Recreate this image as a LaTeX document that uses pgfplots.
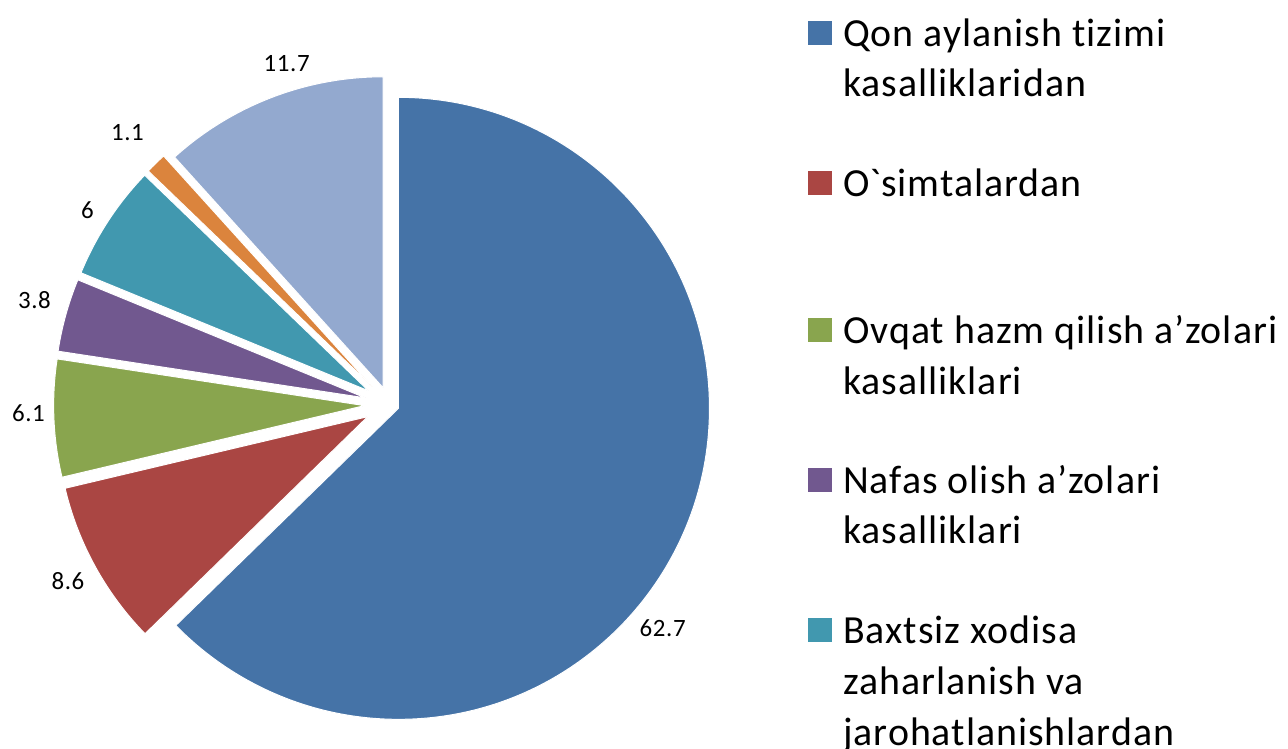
\documentclass[border=0pt]{standalone}
\usepackage{fontspec}
\setmainfont{Carlito}[Ligatures={NoCommon}, LetterSpace=2.5]
\usepackage{pgfplots}
\pgfplotsset{compat=1.18}
\definecolor{c1}{RGB}{69,115,167}
\definecolor{c2}{RGB}{170,70,67}
\definecolor{c3}{RGB}{137,165,78}
\definecolor{c4}{RGB}{113,88,143}
\definecolor{c5}{RGB}{65,152,175}
\definecolor{c6}{RGB}{219,132,61}
\definecolor{c7}{RGB}{147,169,207}
\newcommand\labfont{\fontsize{25}{30}\selectfont}
\newcommand\legfont{\fontsize{40}{48}\selectfont}
\begin{document}
\begin{tikzpicture}
\useasboundingbox (0,0) rectangle (1288bp,749bp);
\clip (0,0) rectangle (1288bp,749bp);
\begin{axis}[
  width=1288bp, height=749bp, scale only axis,
  xmin=0, xmax=1288, ymin=0, ymax=749,
  hide axis, clip=false,
  anchor=south west, at={(0,0)},
]
\pgfplotsextra{
  \gdef\cumsum{0}
  % value / explode distance / colour
  \foreach \sv/\se/\scol in {62.7/9.6/c1, 8.6/25/c2, 6.1/25/c3, 3.8/25/c4, 6/25/c5, 1.1/25/c6, 11.7/18/c7} {
    \pgfmathsetmacro\sA{90-3.6*\cumsum}
    \pgfmathsetmacro\sB{90-3.6*(\cumsum+\sv)}
    \pgfmathsetmacro\sM{(\sA+\sB)/2}
    \pgfmathsetmacro\sX{389.6+\se*cos(\sM)}
    \pgfmathsetmacro\sY{344.4+\se*sin(\sM)}
    \fill[\scol, draw=white, line width=1bp] (axis cs:\sX,\sY) -- ++(\sA:311bp) arc[start angle=\sA, end angle=\sB, radius=311bp] -- cycle;
    \pgfmathsetmacro\sN{\cumsum+\sv}
    \xdef\cumsum{\sN}
  }
}
% data labels
\node[font=\labfont, inner sep=0] at (axis cs:662.7,121) {62.7};
\node[font=\labfont, inner sep=0] at (axis cs:68,167.5) {8.6};
\node[font=\labfont, inner sep=0] at (axis cs:28.5,335.5) {6.1};
\node[font=\labfont, inner sep=0] at (axis cs:34.5,449) {3.8};
\node[font=\labfont, inner sep=0] at (axis cs:87.5,538.5) {6};
\node[font=\labfont, inner sep=0] at (axis cs:127.5,616) {1.1};
\node[font=\labfont, inner sep=0] at (axis cs:286.7,685) {11.7};
% legend
\fill[c1] (axis cs:808,704) rectangle (axis cs:832,728);
\node[font=\legfont, inner sep=0, anchor=base west] at (axis cs:843,702) {Qon aylanish tizimi};
\node[font=\legfont, inner sep=0, anchor=base west] at (axis cs:843,652) {kasalliklaridan};
\fill[c2] (axis cs:808,554) rectangle (axis cs:832,578);
\node[font=\legfont, inner sep=0, anchor=base west] at (axis cs:843,552) {O\textasciigrave simtalardan};
\fill[c3] (axis cs:808,407) rectangle (axis cs:832,431);
\node[font=\legfont, inner sep=0, anchor=base west] at (axis cs:843,405) {Ovqat hazm qilish a’zolari};
\node[font=\legfont, inner sep=0, anchor=base west] at (axis cs:843,354) {kasalliklari};
\fill[c4] (axis cs:808,257) rectangle (axis cs:832,281);
\node[font=\legfont, inner sep=0, anchor=base west] at (axis cs:843,255) {Nafas olish a’zolari};
\node[font=\legfont, inner sep=0, anchor=base west] at (axis cs:843,205) {kasalliklari};
\fill[c5] (axis cs:808,107) rectangle (axis cs:832,131);
\node[font=\legfont, inner sep=0, anchor=base west] at (axis cs:843,105) {Baxtsiz xodisa};
\node[font=\legfont, inner sep=0, anchor=base west] at (axis cs:843,54) {zaharlanish va};
\node[font=\legfont, inner sep=0, anchor=base west] at (axis cs:843,4) {jarohatlanishlardan};
\end{axis}
\end{tikzpicture}
\end{document}
